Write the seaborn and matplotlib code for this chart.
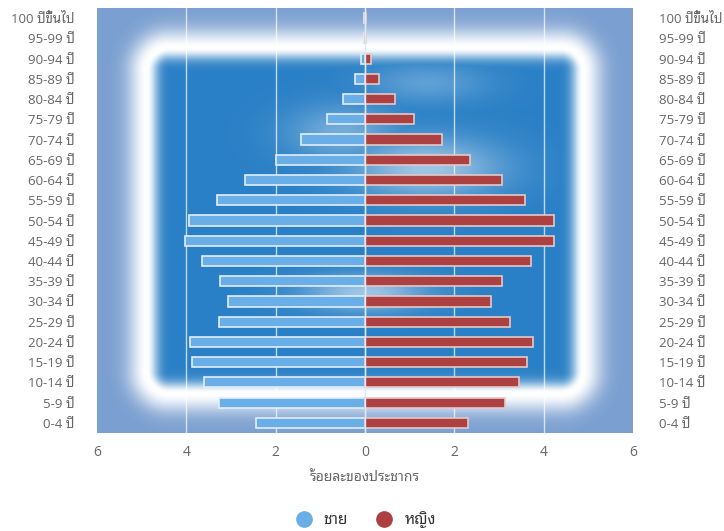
import matplotlib
matplotlib.use("Agg")
import matplotlib.pyplot as plt
from matplotlib import font_manager
from matplotlib.lines import Line2D
import seaborn as sns
import numpy as np
import pandas as pd

# ── Data ─────────────────────────────────────────────────────────────────────
ages = ["100 ปีขึ้นไป", "95-99 ปี", "90-94 ปี", "85-89 ปี", "80-84 ปี", "75-79 ปี",
        "70-74 ปี", "65-69 ปี", "60-64 ปี", "55-59 ปี", "50-54 ปี", "45-49 ปี",
        "40-44 ปี", "35-39 ปี", "30-34 ปี", "25-29 ปี", "20-24 ปี", "15-19 ปี",
        "10-14 ปี", "5-9 ปี", "0-4 ปี"]
male = [0.02, 0.03, 0.09, 0.23, 0.49, 0.86, 1.44, 2.00, 2.68, 3.32, 3.95, 4.03,
        3.65, 3.24, 3.06, 3.26, 3.92, 3.87, 3.61, 3.27, 2.43]
female = [0.02, 0.03, 0.13, 0.32, 0.68, 1.10, 1.72, 2.36, 3.06, 3.58, 4.23, 4.23,
          3.71, 3.06, 2.81, 3.24, 3.77, 3.63, 3.44, 3.13, 2.30]
ticks = [-6, -4, -2, 0, 2, 4, 6]
series = ["ชาย", "หญิง"]

MALE_C = "#6aaee8"
FEMALE_C = "#ad4141"
TXT = "#666666"

# ── Style ────────────────────────────────────────────────────────────────────
sns.set_theme(style="white")
installed = {f.name for f in font_manager.fontManager.ttflist}
thai = [n for n in ["Noto Sans Thai Looped", "IBM Plex Sans Thai Looped",
                    "Noto Sans Thai", "IBM Plex Sans Thai", "Sarabun"] if n in installed]
plt.rcParams["font.family"] = ["Open Sans"] + thai[:1] + ["DejaVu Sans"]

fig = plt.figure(figsize=(7.24, 5.31), dpi=100)
ax = fig.add_axes([97 / 724, 1 - 433 / 531, 536 / 724, 425 / 531])

# ── Background: blue panel with a soft white frame glow ──────────────────────
W, H = 536, 425
xx, yy = np.meshgrid(np.arange(W) + 0.5, np.arange(H) + 0.5)
x0, x1, y0, y1, r = 50, 486, 40, 385, 22
ox = np.maximum(x0 + r - xx, xx - (x1 - r))
oy = np.maximum(y0 + r - yy, yy - (y1 - r))
corner = (ox > 0) & (oy > 0)
d = np.where(corner, np.hypot(np.maximum(ox, 0), np.maximum(oy, 0)), np.maximum(ox, oy)) - r
sig = np.where(d > 0, 19.0, 11.0)
glow = np.exp(-(d / sig) ** 2)

inner = np.array([0x2a, 0x80, 0xc6]) / 255
outer = np.array([0x7a, 0x9f, 0xd0]) / 255
base = np.where((d > 0)[..., None], outer, inner)
# faint white haze behind the bars
for cx, cy, sx, sy, a in [(330, 160, 75, 30, 0.55), (245, 125, 55, 28, 0.35),
                          (268, 285, 60, 18, 0.55), (330, 75, 60, 20, 0.25)]:
    glow = np.maximum(glow, a * np.exp(-((xx - cx) / sx) ** 2 - ((yy - cy) / sy) ** 2))
img = base * (1 - glow[..., None]) + glow[..., None]
ax.imshow(img, extent=(0, 1, 0, 1), transform=ax.transAxes, aspect="auto",
          zorder=0, interpolation="bilinear")

# ── Bars ─────────────────────────────────────────────────────────────────────
df = pd.DataFrame({"age": ages, "male": [-v for v in male], "female": female})
sns.barplot(data=df, x="male", y="age", color=MALE_C, edgecolor="#e2edf8",
            linewidth=1.2, width=0.5, saturation=1, ax=ax, zorder=3)
sns.barplot(data=df, x="female", y="age", color=FEMALE_C, edgecolor="#e3c9c9",
            linewidth=1.2, width=0.5, saturation=1, ax=ax, zorder=3)

ax.set_xlim(-6, 6)
ax.set_ylim(len(ages) - 0.5, -0.5)
ax.set_xticks(ticks)
ax.set_xticklabels([str(abs(t)) for t in ticks])
for t in ticks[1:-1]:
    ax.axvline(t, color="white", lw=1, alpha=0.7, zorder=1)
ax.axvline(0, color="#dfe9f5", lw=1, zorder=4)
for s in ax.spines.values():
    s.set_visible(False)
ax.tick_params(axis="both", length=0, colors=TXT, labelsize=9.5)
ax.tick_params(axis="x", pad=9, labelsize=10)
ax.tick_params(axis="y", pad=16)
ax.set_xlabel("ร้อยละของประชากร", color=TXT, fontsize=10, labelpad=7)
ax.set_ylabel("")

ax2 = ax.twinx()
ax2.set_ylim(ax.get_ylim())
ax2.set_yticks(range(len(ages)))
ax2.set_yticklabels(ages)
ax2.tick_params(axis="y", length=0, colors=TXT, labelsize=9.5, pad=19)
for s in ax2.spines.values():
    s.set_visible(False)

handles = [Line2D([], [], marker="o", ls="", markersize=11, color=c)
           for c in [MALE_C, FEMALE_C]]
leg = fig.legend(handles, series, loc="center", bbox_to_anchor=(0.5, 1 - 520 / 531),
                 ncol=2, frameon=False, handletextpad=0.3, columnspacing=1.4,
                 prop={"weight": "bold", "size": 11})
for t in leg.get_texts():
    t.set_color("#333333")

fig.savefig("out.png", dpi=100)
